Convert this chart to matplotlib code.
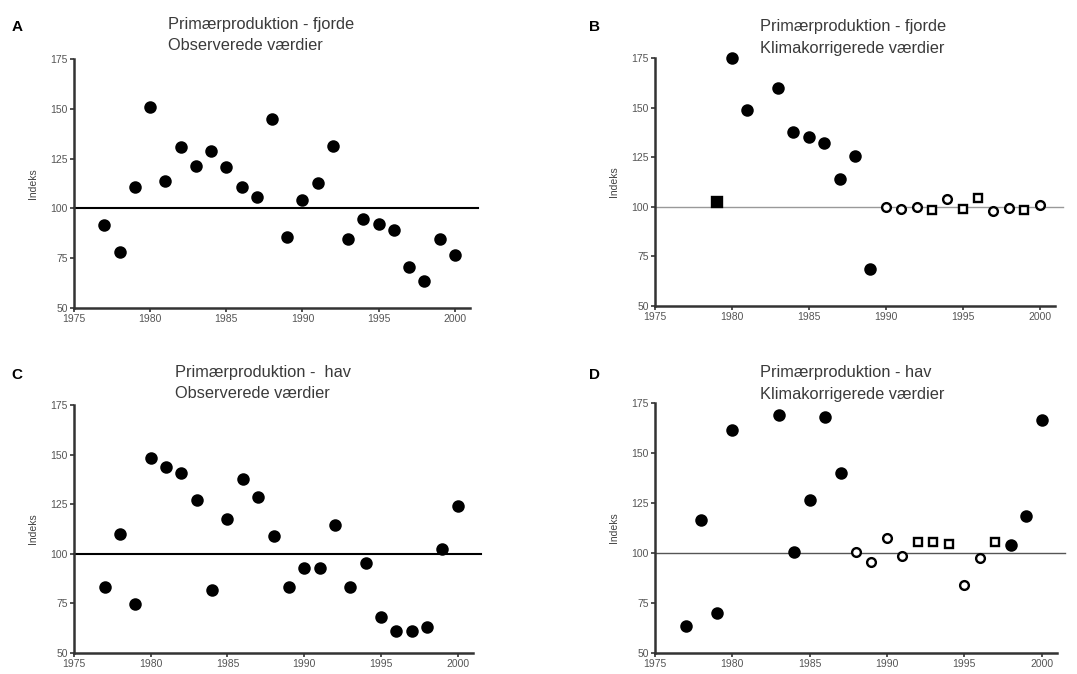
import matplotlib
matplotlib.use("Agg")
import matplotlib.pyplot as plt

plt.rcParams['font.family'] = ['Liberation Sans', 'DejaVu Sans']

# Panel A - fjorde, observerede
a_years = [1977, 1978, 1979, 1980, 1981, 1982, 1983, 1984, 1985, 1986, 1987, 1988,
           1989, 1990, 1991, 1992, 1993, 1994, 1995, 1996, 1997, 1998, 1999, 2000]
a_vals = [91.6, 78, 110.5, 151, 113.8, 130.9, 121.5, 128.6, 120.8, 110.5, 105.7, 144.8,
          85.8, 104.2, 112.8, 131.1, 84.5, 94.6, 92.2, 89, 70.8, 63.7, 84.5, 76.4]
a_kind = ['fc'] * 24

# Panel B - fjorde, klimakorrigerede
b_years = [1979, 1980, 1981, 1983, 1984, 1985, 1986, 1987, 1988, 1989,
           1990, 1991, 1992, 1993, 1994, 1995, 1996, 1997, 1998, 1999, 2000]
b_vals = [102.2, 175, 148.9, 159.9, 137.8, 135.4, 132.4, 113.8, 125.8, 68.5,
          100, 98.8, 99.7, 98.3, 103.7, 99, 104.4, 98, 99.5, 98.3, 100.7]
b_kind = ['fs', 'fc', 'fc', 'fc', 'fc', 'fc', 'fc', 'fc', 'fc', 'fc',
          'oc', 'oc', 'oc', 'os', 'oc', 'os', 'os', 'oc', 'oc', 'os', 'oc']

# Panel C - hav, observerede
c_years = [1977, 1978, 1979, 1980, 1981, 1982, 1983, 1984, 1985, 1986, 1987, 1988,
           1989, 1990, 1991, 1992, 1993, 1994, 1995, 1996, 1997, 1998, 1999, 2000]
c_vals = [83.5, 109.8, 74.9, 148.4, 143.8, 140.8, 127, 81.8, 117.4, 137.9, 128.7, 108.9,
          83.5, 92.9, 92.9, 114.3, 83.5, 95.4, 68, 61.2, 61.2, 62.9, 102.2, 124]
c_kind = ['fc'] * 24

# Panel D - hav, klimakorrigerede
d_years = [1977, 1978, 1979, 1980, 1983, 1984, 1985, 1986, 1987, 1988, 1989, 1990,
           1991, 1992, 1993, 1994, 1995, 1996, 1997, 1998, 1999, 2000]
d_vals = [63.5, 116.3, 70, 161.6, 169.2, 100.6, 126.5, 168, 139.9, 100.5, 95.6, 107.7,
          98.5, 105.5, 105.5, 104.5, 83.8, 97.3, 105.5, 104, 118.7, 166.6]
d_kind = ['fc', 'fc', 'fc', 'fc', 'fc', 'fc', 'fc', 'fc', 'fc', 'oc', 'oc', 'oc',
          'oc', 'os', 'os', 'os', 'oc', 'oc', 'os', 'fc', 'fc', 'fc']

titles = [("Primærproduktion - fjorde", "Observerede værdier"),
          ("Primærproduktion - fjorde", "Klimakorrigerede værdier"),
          ("Primærproduktion -  hav", "Observerede værdier"),
          ("Primærproduktion - hav", "Klimakorrigerede værdier")]
letters = ["A", "B", "C", "D"]
x_ticks = [1975, 1980, 1985, 1990, 1995, 2000]
y_ticks = [50, 75, 100, 125, 150, 175]

W, H = 1077, 674
fig = plt.figure(figsize=(W / 100, H / 100), dpi=100)


def px_axes(left, top, right, bottom):
    return fig.add_axes([left / W, 1 - bottom / H, (right - left) / W, (bottom - top) / H])


def draw_panel(ax, years, vals, kind, ref_color, ref_lw):
    ax.plot([1975, 2001.5], [100, 100], color=ref_color, lw=ref_lw, clip_on=False, zorder=1)
    for x, y, k in zip(years, vals, kind):
        marker = 'o' if k[1] == 'c' else 's'
        if k[0] == 'f':
            ms = 7.3 if marker == 'o' else 6.5
            face = 'black'
        else:
            ms = 6.3 if marker == 'o' else 5.6
            face = 'white'
        ax.plot(x, y, marker=marker, ms=ms, mfc=face, mec='black', mew=1.7,
                ls='none', clip_on=False, zorder=3)
    ax.set_xlim(1975, 2001)
    ax.set_ylim(50, 175)
    ax.set_xticks(x_ticks)
    ax.set_yticks(y_ticks)
    for s in ['top', 'right']:
        ax.spines[s].set_visible(False)
    for s in ['left', 'bottom']:
        ax.spines[s].set_linewidth(1.8)
        ax.spines[s].set_color('#333333')
    ax.tick_params(length=3, width=1.2, color='#333333', labelsize=7.5,
                   labelcolor='#555555', pad=1.5)
    ax.set_ylabel("Indeks", fontsize=7.5, color='#444444', labelpad=9)


boxes = [(74, 59, 470, 308), (655, 58, 1055, 306), (74, 405, 473, 653), (655, 403, 1057, 653)]
data = [(a_years, a_vals, a_kind, 'black', 1.5),
        (b_years, b_vals, b_kind, '#999999', 1.0),
        (c_years, c_vals, c_kind, 'black', 1.5),
        (d_years, d_vals, d_kind, '#555555', 1.0)]
title_pos = [(168, 25), (760, 27), (175, 373), (760, 373)]
letter_pos = [(17, 27), (595, 27), (17, 375), (595, 375)]

for i in range(4):
    ax = px_axes(*boxes[i])
    yrs, vals, kind, rc, rlw = data[i]
    draw_panel(ax, yrs, vals, kind, rc, rlw)
    tx, ty = title_pos[i]
    fig.text(tx / W, 1 - ty / H, titles[i][0], fontsize=11.8, color='#3a3a3a',
             ha='left', va='center')
    fig.text(tx / W, 1 - (ty + 21) / H, titles[i][1], fontsize=11.8, color='#3a3a3a',
             ha='left', va='center')
    lx, ly = letter_pos[i]
    fig.text(lx / W, 1 - ly / H, letters[i], fontsize=11, fontweight='bold',
             ha='center', va='center')

fig.savefig("out.png", dpi=100)
